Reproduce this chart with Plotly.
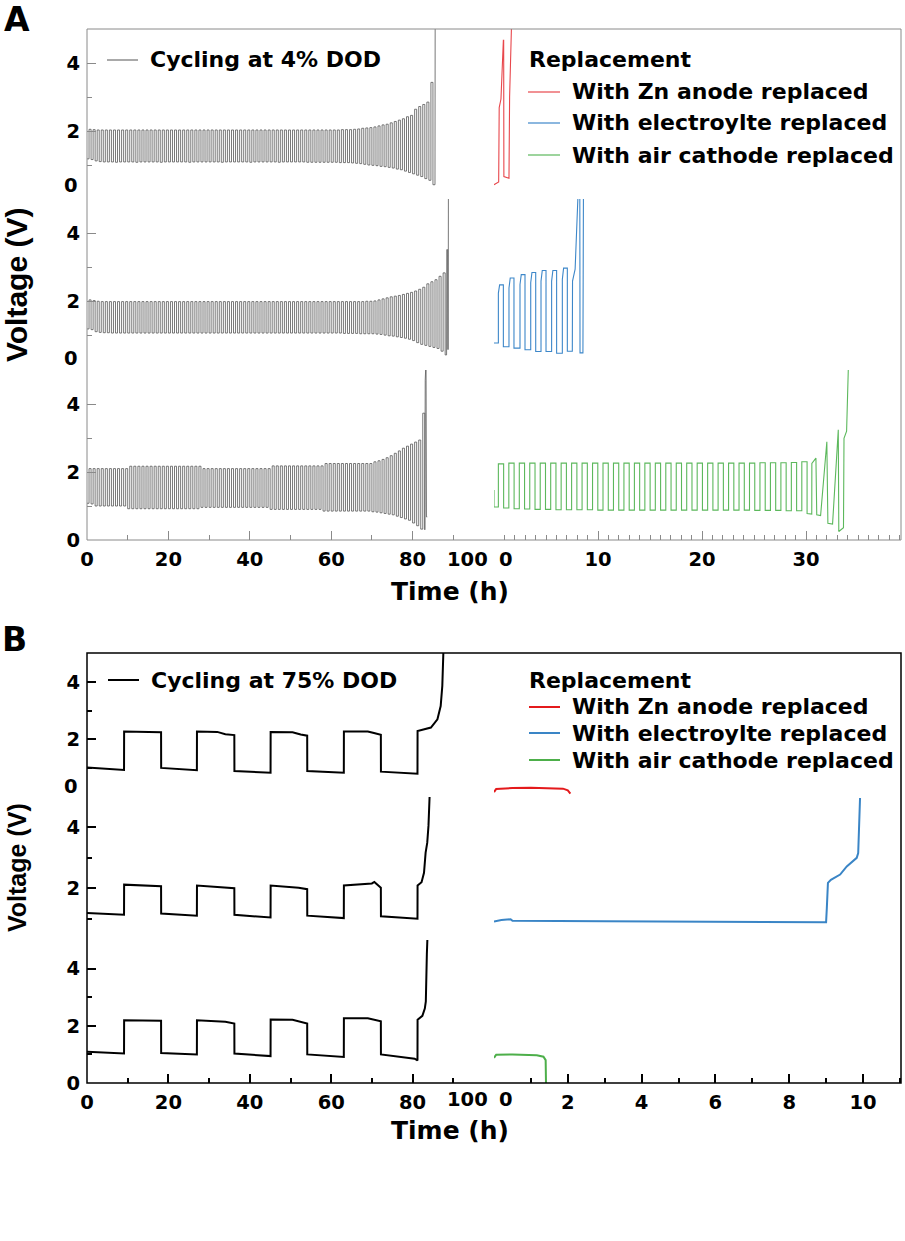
import plotly.graph_objects as go

# page size in px; helpers turn reference pixel positions into paper fractions
W, H = 905, 1241


def px(x):
    return x / W


def py(y):
    return 1 - y / H


# ---------------- panel A : cycling at 4% DOD (1 h cycles) ----------------
# discharge / charge plateau voltage of every cycle
a_top_dis = [
    1.18, 1.16, 1.12, 1.10, 1.09, 1.09, 1.09, 1.08, 1.09, 1.09,
    1.09, 1.09, 1.08, 1.09, 1.09, 1.09, 1.09, 1.09, 1.08, 1.09,
    1.09, 1.09, 1.09, 1.09, 1.09, 1.08, 1.09, 1.09, 1.09, 1.09,
    1.09, 1.09, 1.09, 1.08, 1.09, 1.09, 1.09, 1.09, 1.09, 1.09,
    1.08, 1.09, 1.09, 1.09, 1.09, 1.09, 1.09, 1.08, 1.09, 1.09,
    1.09, 1.09, 1.09, 1.09, 1.08, 1.08, 1.08, 1.08, 1.08, 1.08,
    1.08, 1.08, 1.07, 1.07, 1.07, 1.06, 1.05, 1.04, 1.02, 1.00,
    0.99, 0.98, 0.96, 0.95, 0.93, 0.91, 0.88, 0.86, 0.82, 0.78,
    0.74, 0.70, 0.66, 0.60, 0.55]
a_top_chg = [
    2.05, 2.04, 2.03, 2.03, 2.03, 2.03, 2.03, 2.03, 2.03, 2.03,
    2.03, 2.03, 2.03, 2.03, 2.03, 2.03, 2.03, 2.03, 2.03, 2.03,
    2.03, 2.03, 2.03, 2.03, 2.03, 2.03, 2.03, 2.03, 2.03, 2.03,
    2.03, 2.03, 2.03, 2.03, 2.03, 2.03, 2.03, 2.03, 2.03, 2.03,
    2.03, 2.03, 2.03, 2.03, 2.03, 2.03, 2.03, 2.03, 2.03, 2.03,
    2.03, 2.03, 2.03, 2.03, 2.03, 2.03, 2.03, 2.03, 2.03, 2.03,
    2.03, 2.03, 2.04, 2.04, 2.04, 2.05, 2.06, 2.08, 2.09, 2.10,
    2.12, 2.15, 2.18, 2.20, 2.24, 2.28, 2.32, 2.36, 2.42, 2.46,
    2.64, 2.72, 2.78, 2.85, 3.43]
a_top_tail_t = [85.0, 85.5, 85.55]
a_top_tail_v = [0.42, 0.42, 5.6]

a_mid_dis = [
    1.20, 1.18, 1.12, 1.10, 1.09, 1.09, 1.08, 1.08, 1.08, 1.08,
    1.08, 1.08, 1.08, 1.08, 1.08, 1.08, 1.08, 1.08, 1.08, 1.08,
    1.08, 1.08, 1.08, 1.08, 1.08, 1.08, 1.08, 1.08, 1.08, 1.08,
    1.08, 1.08, 1.08, 1.08, 1.08, 1.08, 1.08, 1.08, 1.08, 1.08,
    1.08, 1.08, 1.08, 1.08, 1.08, 1.08, 1.08, 1.08, 1.08, 1.08,
    1.08, 1.08, 1.08, 1.08, 1.08, 1.08, 1.08, 1.08, 1.08, 1.08,
    1.08, 1.08, 1.08, 1.07, 1.07, 1.07, 1.07, 1.06, 1.06, 1.06,
    1.06, 1.05, 1.04, 1.02, 1.00, 0.99, 0.97, 0.95, 0.93, 0.90,
    0.86, 0.80, 0.75, 0.72, 0.69, 0.66, 0.63, 0.55]
a_mid_chg = [
    2.05, 2.03, 2.01, 2.00, 2.00, 2.00, 2.00, 2.00, 2.00, 2.00,
    2.00, 2.00, 2.00, 2.00, 2.00, 2.00, 2.00, 2.00, 2.00, 2.00,
    2.00, 2.00, 2.00, 2.00, 2.00, 2.00, 2.00, 2.00, 2.00, 2.00,
    2.00, 2.00, 2.00, 2.00, 2.00, 2.00, 2.00, 2.00, 2.00, 2.00,
    2.00, 2.00, 2.00, 2.00, 2.00, 2.00, 2.00, 2.00, 2.00, 2.00,
    2.00, 2.00, 2.00, 2.00, 2.00, 2.00, 2.00, 2.00, 2.00, 2.00,
    2.00, 2.00, 2.00, 2.00, 2.00, 2.00, 2.00, 2.00, 2.01, 2.01,
    2.02, 2.05, 2.08, 2.11, 2.14, 2.16, 2.18, 2.21, 2.24, 2.27,
    2.31, 2.36, 2.42, 2.52, 2.58, 2.64, 2.74, 2.84]
a_mid_tail_t = [88.0, 88.35, 88.4, 88.6, 88.65, 88.75, 88.8]
a_mid_tail_v = [0.44, 0.44, 3.52, 3.52, 0.60, 0.60, 5.5]

a_bot_dis = [
    1.08, 1.06, 1.00, 1.00, 1.00, 1.00, 1.00, 1.00, 1.00, 1.00,
    0.92, 0.92, 0.92, 0.92, 0.92, 0.92, 0.92, 0.92, 0.92, 0.92,
    0.92, 0.92, 0.92, 0.92, 0.92, 0.92, 0.92, 0.92, 0.96, 0.96,
    0.96, 0.96, 0.96, 0.96, 0.96, 0.96, 0.96, 0.96, 0.96, 0.96,
    0.96, 0.96, 0.96, 0.96, 0.96, 0.90, 0.90, 0.90, 0.90, 0.90,
    0.90, 0.90, 0.90, 0.90, 0.90, 0.90, 0.90, 0.90, 0.85, 0.85,
    0.85, 0.85, 0.85, 0.85, 0.85, 0.85, 0.85, 0.85, 0.85, 0.85,
    0.83, 0.82, 0.80, 0.78, 0.76, 0.74, 0.70, 0.66, 0.62, 0.58,
    0.50, 0.42, 0.32]
a_bot_chg = [
    2.10, 2.10, 2.10, 2.10, 2.10, 2.10, 2.10, 2.10, 2.10, 2.10,
    2.17, 2.17, 2.17, 2.17, 2.17, 2.17, 2.17, 2.17, 2.17, 2.17,
    2.17, 2.17, 2.17, 2.17, 2.17, 2.17, 2.17, 2.17, 2.10, 2.10,
    2.10, 2.10, 2.10, 2.10, 2.10, 2.10, 2.10, 2.10, 2.10, 2.10,
    2.10, 2.10, 2.10, 2.10, 2.10, 2.18, 2.18, 2.18, 2.18, 2.18,
    2.18, 2.18, 2.18, 2.18, 2.18, 2.18, 2.18, 2.18, 2.25, 2.25,
    2.25, 2.25, 2.25, 2.25, 2.25, 2.25, 2.25, 2.25, 2.25, 2.25,
    2.30, 2.33, 2.37, 2.42, 2.48, 2.55, 2.62, 2.70, 2.76, 2.82,
    2.88, 2.94, 3.73]
a_bot_tail_t = [83.0, 83.1, 83.3, 83.4, 83.6]
a_bot_tail_v = [0.30, 4.70, 5.30, 0.68, 0.68]

# replacement runs, panel A (time restarts at 0 on the right-hand axis)
a_red_t = [0, 0.37, 0.45, 0.50, 0.67, 0.90, 0.93, 0.95, 1.44, 1.50, 1.70]
a_red_v = [0.42, 0.49, 0.50, 2.69, 2.94, 4.67, 4.67, 0.66, 0.61, 3.00, 5.30]

a_blue_up = [0.42, 1.44, 2.50, 3.53, 4.52, 5.54, 6.57]
a_blue_low = [0.79, 0.68, 0.64, 0.59, 0.54, 0.54, 0.49]
a_blue_knee = [2.25, 2.40, 2.50, 2.55, 2.60, 2.60, 2.65]
a_blue_top = [2.49, 2.69, 2.79, 2.85, 2.91, 2.91, 2.98]
a_blue_tail_t = [7.05, 7.53, 7.55, 7.80, 8.10, 8.25, 8.27, 8.55, 8.60]
a_blue_tail_v = [0.55, 0.55, 2.60, 2.95, 5.30, 5.30, 0.50, 0.50, 5.30]

a_green_start = 1.47
a_green_low = [
    0.97, 0.94, 0.92, 0.91, 0.90, 0.90, 0.89, 0.89, 0.89, 0.89,
    0.88, 0.88, 0.88, 0.88, 0.88, 0.88, 0.88, 0.88, 0.88, 0.88,
    0.88, 0.88, 0.88, 0.88, 0.88, 0.87, 0.87, 0.87, 0.86, 0.86]
a_green_high = [
    2.24, 2.26, 2.26, 2.26, 2.26, 2.26, 2.26, 2.26, 2.26, 2.26,
    2.26, 2.26, 2.26, 2.26, 2.26, 2.26, 2.26, 2.26, 2.26, 2.26,
    2.26, 2.26, 2.26, 2.26, 2.26, 2.27, 2.27, 2.27, 2.28, 2.30]
a_green_tail_t = [30.10, 30.55, 30.56, 30.95, 31.03, 31.40, 32.00, 32.10,
                  32.55, 33.10, 33.15, 33.60, 33.65, 33.90, 34.07]
a_green_tail_v = [0.78, 0.76, 2.25, 2.41, 0.74, 0.72, 2.89, 0.49,
                  0.47, 3.24, 0.25, 0.36, 2.99, 3.20, 5.10]

# ---------------- panel B : cycling at 75% DOD ----------------
b_top_t = [0, 9.1, 9.12, 18.2, 18.22, 27.0, 27.02, 32.0, 34.0, 36.2,
           36.22, 45.1, 45.12, 50.5, 52.5, 54.1, 54.12, 63.1, 63.12, 69.0,
           70.5, 72.2, 72.22, 81.2, 81.22, 82.5, 84.5, 86.1, 86.9, 87.3, 87.6]
b_top_v = [1.02, 0.94, 2.27, 2.25, 1.01, 0.93, 2.27, 2.26, 2.18, 2.15,
           0.90, 0.84, 2.26, 2.25, 2.17, 2.13, 0.90, 0.84, 2.27, 2.27,
           2.22, 2.16, 0.88, 0.81, 2.29, 2.33, 2.41, 2.70, 3.16, 3.86, 5.20]

b_mid_t = [0, 9.1, 9.12, 18.2, 18.22, 27.0, 27.02, 34.0, 36.2, 36.22,
           45.1, 45.12, 52.0, 54.1, 54.12, 63.1, 63.12, 70.0, 70.6, 72.2,
           72.22, 81.2, 81.22, 82.2, 82.8, 83.2, 83.6, 83.9, 84.2]
b_mid_v = [1.19, 1.13, 2.12, 2.07, 1.17, 1.10, 2.09, 2.04, 2.00, 1.13,
           1.04, 2.09, 2.02, 1.97, 1.10, 1.02, 2.09, 2.16, 2.21, 2.02,
           1.08, 1.00, 2.09, 2.20, 2.51, 3.17, 3.50, 4.05, 5.10]

b_bot_t = [0, 9.1, 9.12, 18.2, 18.22, 27.0, 27.02, 34.0, 36.2, 36.22,
           45.1, 45.12, 50.5, 54.1, 54.12, 63.1, 63.12, 69.0, 72.2, 72.22,
           80.5, 81.2, 81.22, 82.4, 83.0, 83.25, 83.5, 83.65]
b_bot_v = [1.09, 1.03, 2.19, 2.18, 1.05, 1.00, 2.19, 2.14, 2.08, 1.03,
           0.94, 2.22, 2.21, 2.08, 1.00, 0.91, 2.26, 2.26, 2.16, 1.00,
           0.85, 0.79, 2.21, 2.35, 2.60, 2.85, 4.50, 5.10]

b_red_t = [0, 0.06, 0.5, 1.0, 1.87, 2.0, 2.07]
b_red_v = [0.17, 0.28, 0.31, 0.32, 0.29, 0.23, 0.12]
b_blue_t = [0, 0.2, 0.45, 0.5, 3.0, 6.0, 9.0, 9.02, 9.05, 9.13, 9.38, 9.56, 9.83, 9.87, 9.92]
b_blue_v = [0.91, 0.96, 0.98, 0.93, 0.92, 0.90, 0.88, 1.35, 2.18, 2.28, 2.45, 2.72, 3.00, 3.16, 4.97]
b_green_t = [0, 0.06, 0.5, 1.16, 1.34, 1.40, 1.41]
b_green_v = [0.88, 0.99, 1.00, 0.97, 0.92, 0.80, -0.10]

legend_entries = ["With Zn anode replaced", "With electroylte replaced", "With air cathode replaced"]

RED_A, BLUE_A, GREEN_A = "#e8474c", "#3d87c9", "#5cb85c"
RED_B, BLUE_B, GREEN_B = "#e41a1c", "#3a85c6", "#4daf4a"
GREY = "#555555"


def square_wave(dis, chg, period, half, t_start=0.0):
    # discharge plateau for `half` hours, then charge plateau until the period ends
    t, v = [], []
    for k in range(len(dis)):
        t0 = t_start + k * period
        t += [max(t0, 0), t0 + half, t0 + half, t0 + period]
        v += [dis[k], dis[k], chg[k], chg[k]]
    return t, v


def rounded_cycles(up, low, knee, top, dur):
    t, v = [0], [low[0]]
    for k in range(len(up)):
        t += [up[k], up[k], up[k] + 0.12, up[k] + dur]
        v += [low[k], knee[k], top[k], top[k]]
        if k + 1 < len(up):
            t.append(up[k] + dur)
            v.append(low[k + 1])
    return t, v


fig = go.Figure()


def add_line(t, v, xa, ya, color, width):
    fig.add_trace(go.Scatter(x=t, y=v, mode="lines", xaxis=xa, yaxis=ya,
                             line=dict(color=color, width=width),
                             showlegend=False, hoverinfo="skip"))


t, v = square_wave(a_top_dis, a_top_chg, 1.0, 0.5)
add_line(t + a_top_tail_t, v + a_top_tail_v, "x", "y3", GREY, 0.8)
t, v = square_wave(a_mid_dis, a_mid_chg, 1.0, 0.5)
add_line(t + a_mid_tail_t, v + a_mid_tail_v, "x", "y2", GREY, 0.8)
t, v = square_wave(a_bot_dis, a_bot_chg, 1.0, 0.5)
add_line(t + a_bot_tail_t, v + a_bot_tail_v, "x", "y", GREY, 0.8)

add_line(a_red_t, a_red_v, "x2", "y3", RED_A, 1.1)
t, v = rounded_cycles(a_blue_up, a_blue_low, a_blue_knee, a_blue_top, 0.48)
add_line(t + a_blue_tail_t, v + a_blue_tail_v, "x2", "y2", BLUE_A, 1.1)
t, v = square_wave(a_green_low, a_green_high, 1.006, 0.5, t_start=-0.08)
add_line([0] + t + a_green_tail_t, [a_green_start] + v + a_green_tail_v, "x2", "y", GREEN_A, 1.1)

add_line(b_top_t, b_top_v, "x3", "y6", "black", 2)
add_line(b_mid_t, b_mid_v, "x3", "y5", "black", 2)
add_line(b_bot_t, b_bot_v, "x3", "y4", "black", 2)
add_line(b_red_t, b_red_v, "x4", "y6", RED_B, 2)
add_line(b_blue_t, b_blue_v, "x4", "y5", BLUE_B, 2)
add_line(b_green_t, b_green_v, "x4", "y4", GREEN_B, 2)

tick_font = dict(family="DejaVu Sans", size=19.5, color="black", weight="bold")


def xax(domain, rng, anchor, vals, texts, minor, color, width):
    return dict(domain=domain, range=rng, anchor=anchor, tickmode="array",
                tickvals=vals, ticktext=texts, ticks="inside", ticklen=9,
                tickwidth=width, tickcolor=color, tickfont=tick_font,
                ticklabelstandoff=5, automargin=False,
                minor=dict(ticks="inside", dtick=minor, tick0=0, ticklen=5,
                           tickwidth=width, tickcolor=color),
                showgrid=False, zeroline=False, showline=False, fixedrange=True)


def yax(domain, rng, vals, texts, color, width):
    return dict(domain=domain, range=rng, anchor="x" if color != "black" else "x3",
                tickmode="array", tickvals=vals, ticktext=texts, ticks="inside",
                ticklen=9, tickwidth=width, tickcolor=color, tickfont=tick_font,
                ticklabelstandoff=6, automargin=False,
                minor=dict(ticks="inside", dtick=1, tick0=0, ticklen=5,
                           tickwidth=width, tickcolor=color),
                showgrid=False, zeroline=False, showline=False, fixedrange=True)


GA = "#8a8a8a"
left_dom = [px(87), px(494)]
right_dom = [px(494), px(901)]
fig.update_layout(
    xaxis=xax(left_dom, [0, 100], "y", [0, 20, 40, 60, 80, 100],
              ["0", "20", "40", "60", "80", ""], 10, GA, 1),
    xaxis2=xax(right_dom, [0, 39.13], "y", [0, 10, 20, 30], ["", "10", "20", "30"], 1, GA, 1),
    xaxis3=xax(left_dom, [0, 100], "y4", [0, 20, 40, 60, 80, 100],
               ["0", "20", "40", "60", "80", ""], 10, "black", 1.5),
    xaxis4=xax(right_dom, [0, 11.03], "y4", [0, 2, 4, 6, 8, 10],
               ["", "2", "4", "6", "8", "10"], 1, "black", 1.5),
    yaxis=yax([py(540), py(370)], [0, 5], [0, 2, 4], ["0", "2", "4"], GA, 1),
    yaxis2=yax([py(370), py(199)], [0, 5], [0, 2, 4], ["", "2", "4"], GA, 1),
    yaxis3=yax([py(199), py(29)], [0, 5], [0, 2, 4], ["", "2", "4"], GA, 1),
    yaxis4=yax([py(1083), py(940)], [0, 5], [0, 2, 4], ["0", "2", "4"], "black", 1.5),
    yaxis5=yax([py(940), py(797)], [0.3, 5.0], [2, 4], ["2", "4"], "black", 1.5),
    yaxis6=yax([py(797), py(653)], [0, 5], [0, 2, 4], ["", "2", "4"], "black", 1.5),
)

shapes = [
    dict(type="rect", xref="paper", yref="paper", x0=px(87), x1=px(901),
         y0=py(540), y1=py(29), line=dict(color=GA, width=1)),
    dict(type="rect", xref="paper", yref="paper", x0=px(87), x1=px(901),
         y0=py(1083), y1=py(653), line=dict(color="black", width=1.5)),
]

annotations = []


def text(s, x, y, size, xanchor="left", family="DejaVu Sans", angle=0):
    annotations.append(dict(text=s, xref="paper", yref="paper", x=px(x), y=py(y),
                            xanchor=xanchor, yanchor="middle", showarrow=False,
                            textangle=angle, borderpad=0,
                            font=dict(family=family, size=size, color="black", weight="bold")))


def key(x0, x1, y, color, width):
    shapes.append(dict(type="line", xref="paper", yref="paper", x0=px(x0), x1=px(x1),
                       y0=py(y), y1=py(y), line=dict(color=color, width=width)))


# panel letters and axis titles
text("A", 3, 20, 33)
text("B", 1, 640, 33)
text("Time (h)", 450, 591, 25, xanchor="center")
text("Time (h)", 450, 1130, 25, xanchor="center")
text("Voltage (V)", 16, 285, 30, xanchor="center", family="Liberation Sans", angle=-90)
text("Voltage (V)", 17, 868, 25, xanchor="center", family="Liberation Sans", angle=-90)

# broken-axis tick labels that sit beside the shared 100|0 tick
text("100", 489, 559, 19.5, xanchor="right")
text("0", 498, 559, 19.5)
text("100", 489, 1099, 19.5, xanchor="right")
text("0", 498, 1099, 19.5)
# "0" labels lifted clear of the stacked subpanel below
text("0", 79, 186, 19.5, xanchor="right")
text("0", 79, 358, 19.5, xanchor="right")
text("0", 79, 786, 19.5, xanchor="right")

# legends
key(107, 138, 60, GREY, 1)
text("Cycling at 4% DOD", 149, 60, 22)
text("Replacement", 528, 60, 22)
for y, c, s in zip([92, 123, 155], [RED_A, BLUE_A, GREEN_A], legend_entries):
    key(528, 560, y, c, 1.2)
    text(s, 571, y, 22)

key(108, 139, 680, "black", 2)
text("Cycling at 75% DOD", 150, 680, 22)
text("Replacement", 528, 680, 22)
for y, c, s in zip([707, 733, 760], [RED_B, BLUE_B, GREEN_B], legend_entries):
    key(529, 560, y, c, 2)
    text(s, 571, y, 22)

fig.update_layout(width=W, height=H, margin=dict(l=0, r=0, t=0, b=0, autoexpand=False),
                  paper_bgcolor="white", plot_bgcolor="white",
                  shapes=shapes, annotations=annotations, showlegend=False)

# the page's default 8px body margin would push the figure off the window
fig.write_html("out.html", config={"displayModeBar": False},
               post_script="document.body.style.margin='0';document.body.style.overflow='hidden';")
